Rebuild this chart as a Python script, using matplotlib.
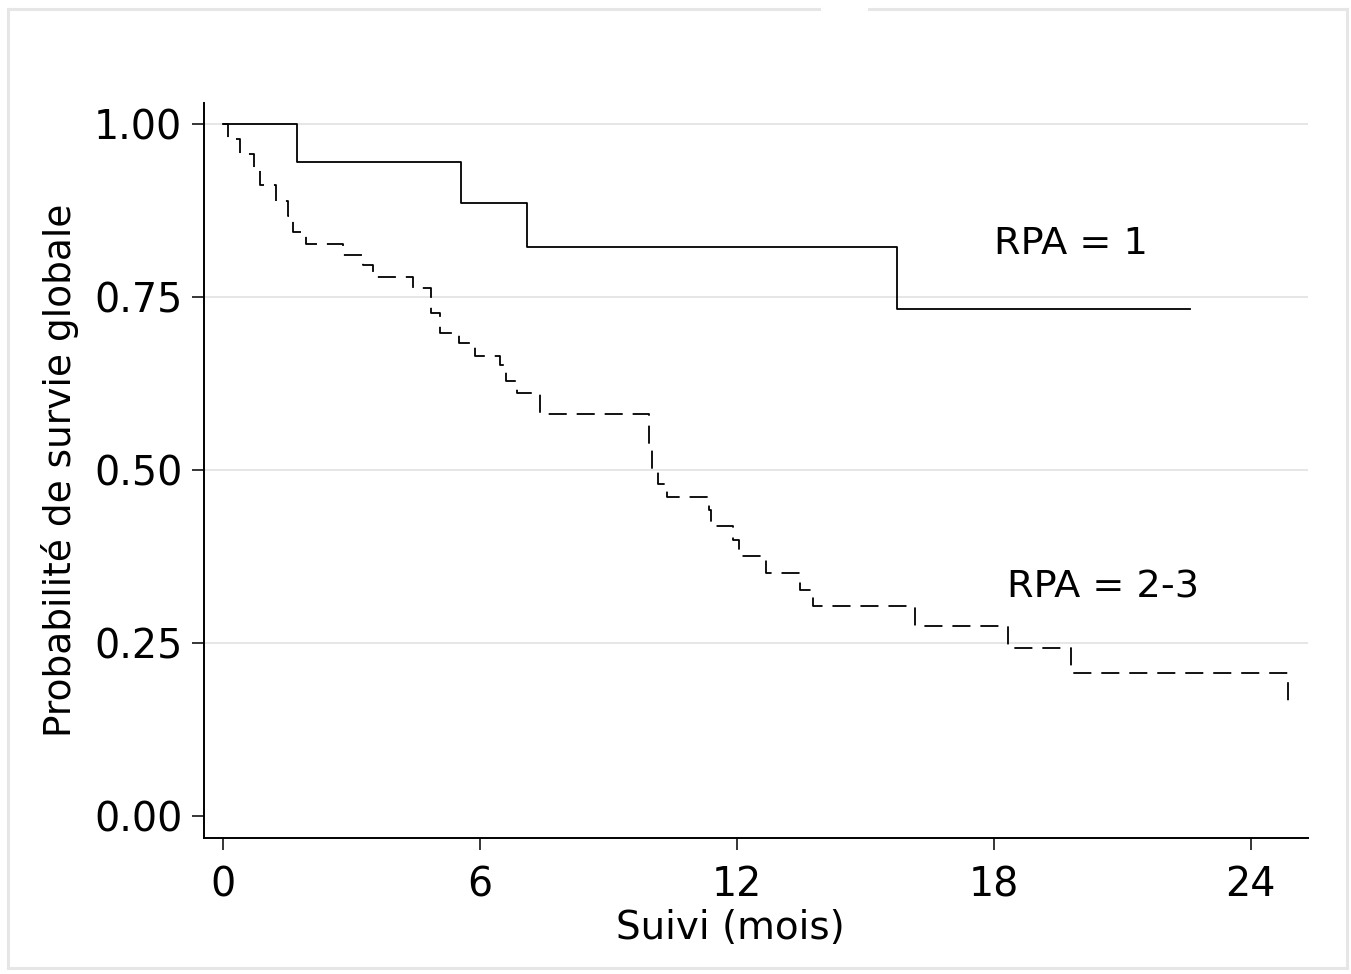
import matplotlib
matplotlib.use('Agg')
import matplotlib.pyplot as plt
from matplotlib.lines import Line2D

plt.rcParams['font.family'] = 'DejaVu Sans'

# Kaplan-Meier estimates (time in months)
t_rpa1 = [0, 1.73, 5.56, 7.10, 15.73, 22.59]
s_rpa1 = [1.0, 0.945, 0.885, 0.822, 0.732, 0.732]

t_rpa23 = [0, 0.11, 0.39, 0.73, 0.86, 1.24, 1.51, 1.63, 1.93, 2.81, 3.27,
           3.50, 4.44, 4.86, 5.06, 5.52, 5.88, 6.46, 6.60, 6.87, 7.41,
           9.96, 10.02, 10.17, 10.36, 11.36, 11.40, 11.91, 12.06, 12.67,
           13.47, 13.77, 16.17, 18.33, 19.80, 24.86]
s_rpa23 = [1.0, 0.978, 0.956, 0.933, 0.911, 0.889, 0.867, 0.844, 0.827, 0.811, 0.796,
           0.779, 0.763, 0.727, 0.698, 0.684, 0.664, 0.651, 0.629, 0.611, 0.580,
           0.536, 0.497, 0.480, 0.461, 0.442, 0.419, 0.398, 0.375, 0.351,
           0.327, 0.303, 0.2746, 0.243, 0.207, 0.159]

xticks = [0, 6, 12, 18, 24]
yticks = [0.0, 0.25, 0.5, 0.75, 1.0]

fig = plt.figure(figsize=(13.51, 9.74), dpi=100)
ax = fig.add_axes([0.151, 0.1396, 0.817, 0.7546])

for y in yticks[1:]:
    ax.axhline(y, color='#e4e4e4', lw=1.3, zorder=0)

ax.plot(t_rpa1, s_rpa1, drawstyle='steps-post', color='black', lw=1.3)
ax.plot(t_rpa23, s_rpa23, drawstyle='steps-post', color='black', lw=1.3,
        ls=(0, (10, 5.5)))

ax.text(19.79, 0.827, 'RPA = 1', fontsize=27.5, ha='center', va='center')
ax.text(20.54, 0.33, 'RPA = 2-3', fontsize=27.5, ha='center', va='center')

ax.set_xlim(-0.44, 25.33)
ax.set_ylim(-0.032, 1.03)
ax.set_xticks(xticks)
ax.set_yticks(yticks)
ax.set_yticklabels([f'{v:.2f}' for v in yticks])
ax.tick_params(axis='both', direction='out', length=8.6, width=1.1,
               labelsize=28.5, color='black')
ax.tick_params(axis='x', pad=11)
ax.tick_params(axis='y', pad=7)

ax.set_xlabel('Suivi (mois)', fontsize=28)
ax.xaxis.set_label_coords(0.477, -0.097)
ax.set_ylabel('Probabilité de survie globale', fontsize=27)
ax.yaxis.set_label_coords(-0.113, 0.5)

for side in ['top', 'right']:
    ax.spines[side].set_visible(False)
for side in ['left', 'bottom']:
    ax.spines[side].set_linewidth(1.4)

# light grey frame around the graph region, with a gap at the top
W, H = 1351, 974
frame_col = '#e6e6e6'
def fx(px):
    return px / W
def fy(py):
    return 1 - py / H
segments = [
    ([8, 819], [9, 9]),
    ([869, 1347], [9, 9]),
    ([8, 8], [9, 968]),
    ([1347, 1347], [9, 968]),
    ([8, 1347], [968, 968]),
]
for xs, ys in segments:
    fig.add_artist(Line2D([fx(v) for v in xs], [fy(v) for v in ys],
                          color=frame_col, lw=2.2))

fig.savefig('out.png', dpi=100)
